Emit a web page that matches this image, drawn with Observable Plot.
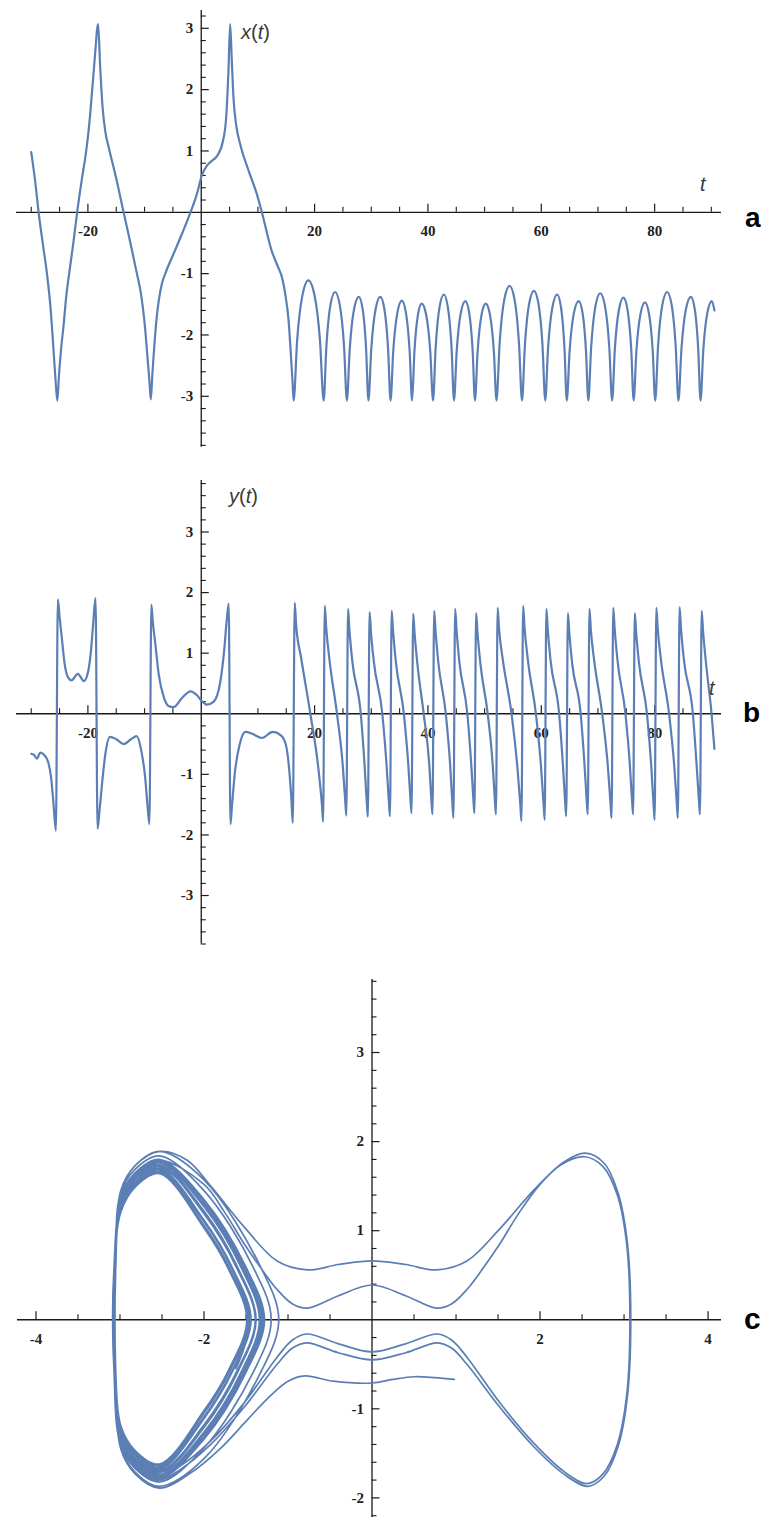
<!DOCTYPE html>
<html>
<head>
<meta charset="utf-8">
<script src="https://cdn.jsdelivr.net/npm/d3@7"></script>
<script src="https://cdn.jsdelivr.net/npm/@observablehq/plot@0.6"></script>
<style>
  html, body { margin: 0; padding: 0; background: #fff; overflow: hidden; }
  #wrap { position: relative; width: 767px; height: 1517px; overflow: hidden; background: #fff; }
  #wrap svg { position: absolute; left: 0; }
  .axlab { position: absolute; font-family: "Liberation Sans", Arial, sans-serif; font-size: 20px; line-height: 22px; color: #3a3a3a; white-space: nowrap; }
  .axlab i { font-style: italic; }
  .plab { position: absolute; font-family: "Liberation Sans", Arial, sans-serif; font-weight: bold; font-size: 28px; line-height: 28px; color: #000; }
</style>
</head>
<body>
<div id="wrap"></div>
<script>
// ---------------- DATA ----------------
// axis ticks and labels
const tMajor = [-20, 20, 40, 60, 80];
const tMajorLabels = ["-20", "20", "40", "60", "80"];
const tMinor = [-30, -25, -15, -10, -5, 5, 10, 15, 25, 30, 35, 45, 50, 55, 65, 70, 75, 85, 90];
const valMajor = [-3, -2, -1, 1, 2, 3];
const valMajorLabels = ["-3", "-2", "-1", "1", "2", "3"];
const phaseXMajor = [-4, -2, 2, 4];
const phaseXMajorLabels = ["-4", "-2", "2", "4"];
const phaseXMinor = [-3.5, -3, -2.5, -1.5, -1, -0.5, 0.5, 1, 1.5, 2.5, 3, 3.5];
const phaseYMajor = [-2, -1, 1, 2, 3];
const phaseYMajorLabels = ["-2", "-1", "1", "2", "3"];

// panel a : x(t), transient part
const xTransient = [
  [-30,0.98],[-29.3,0.5],[-28.7,0],[-27.9,-0.55],[-27.2,-1.02],[-26.6,-1.55],[-26.1,-2.2],[-25.7,-2.75],[-25.4,-3.07],
  [-25.1,-2.65],[-24.7,-2.2],[-24.3,-1.85],[-23.8,-1.35],[-23.4,-1.06],[-22.6,-0.52],[-21.9,0],[-21.1,0.52],[-20.3,1.0],[-19.8,1.4],[-19.3,1.93],[-18.8,2.5],[-18.2,3.07],
  [-17.85,2.4],[-17.4,1.7],[-16.9,1.3],[-16.3,1.05],[-15.0,0.55],[-13.7,0],[-12.5,-0.5],[-11.4,-0.98],[-10.6,-1.35],[-10.0,-1.8],[-9.5,-2.35],[-9.15,-2.75],[-8.9,-3.05],
  [-8.6,-2.6],[-8.3,-2.2],[-7.9,-1.75],[-7.5,-1.44],[-6.9,-1.15],[-6.35,-1.0],[-4.9,-0.68],[-3.4,-0.35],[-1.9,0],[-0.76,0.3],[0.1,0.6],[1.0,0.76],[1.9,0.84],[2.8,0.92],[3.8,1.15],[4.4,1.55],[4.8,2.3],[5.1,3.07],
  [5.4,2.45],[5.7,1.85],[6.2,1.4],[6.9,1.1],[8.35,0.68],[9.8,0.3],[10.7,0],[12.4,-0.62],[13.5,-0.88],[14.3,-1.08],[14.9,-1.38],[15.4,-1.75],[15.8,-2.3],[16.1,-2.75],[16.3,-3.07]
];
// panel a : x(t), oscillation part
const xOscillation = [
  [16.92,-2.09],[17.86,-1.35],[18.9,-1.11],[19.98,-1.35],[20.95,-2.09],[21.6,-3.07],
  [22.08,-2.19],[22.8,-1.51],[23.6,-1.30],[24.44,-1.51],[25.2,-2.19],[25.7,-3.07],
  [26.2,-2.23],[26.96,-1.58],[27.8,-1.38],[28.48,-1.58],[29.09,-2.23],[29.5,-3.07],
  [30.0,-2.23],[30.76,-1.58],[31.6,-1.38],[32.32,-1.58],[32.97,-2.23],[33.4,-3.07],
  [33.88,-2.26],[34.6,-1.64],[35.4,-1.44],[36.12,-1.64],[36.77,-2.26],[37.2,-3.07],
  [37.61,-2.28],[38.22,-1.68],[38.9,-1.49],[39.7,-1.68],[40.42,-2.28],[40.9,-3.07],
  [41.36,-2.21],[42.04,-1.55],[42.8,-1.34],[43.52,-1.55],[44.17,-2.21],[44.6,-3.07],
  [45.08,-2.26],[45.8,-1.64],[46.6,-1.45],[47.28,-1.64],[47.89,-2.26],[48.3,-3.07],
  [48.76,-2.28],[49.44,-1.68],[50.2,-1.49],[50.96,-1.68],[51.64,-2.28],[52.1,-3.07],
  [52.65,-2.14],[53.48,-1.42],[54.4,-1.20],[55.28,-1.42],[56.07,-2.14],[56.6,-3.07],
  [57.1,-2.18],[57.86,-1.49],[58.7,-1.28],[59.5,-1.49],[60.22,-2.18],[60.7,-3.07],
  [61.2,-2.21],[61.96,-1.55],[62.8,-1.34],[63.48,-1.55],[64.09,-2.21],[64.5,-3.07],
  [65.0,-2.26],[65.76,-1.64],[66.6,-1.45],[67.28,-1.64],[67.89,-2.26],[68.3,-3.07],
  [68.8,-2.20],[69.56,-1.53],[70.4,-1.32],[71.24,-1.53],[72.0,-2.20],[72.5,-3.07],
  [72.98,-2.23],[73.7,-1.59],[74.5,-1.39],[75.22,-1.59],[75.87,-2.23],[76.3,-3.07],
  [76.78,-2.27],[77.5,-1.66],[78.3,-1.47],[79.02,-1.66],[79.67,-2.27],[80.1,-3.07],
  [80.6,-2.19],[81.36,-1.51],[82.2,-1.30],[83.0,-1.51],[83.72,-2.19],[84.2,-3.07],
  [84.73,-2.23],[85.52,-1.58],[86.4,-1.38],[87.08,-1.58],[87.69,-2.23],[88.1,-3.07],
  [88.58,-2.26],[89.3,-1.64],[90.1,-1.45],[90.55,-1.6]
];

// panel b : y(t), transient part
const yTransient = [
  [-30,-0.66],[-29.5,-0.68],[-29.0,-0.74],[-28.4,-0.64],[-27.7,-0.68],[-27.0,-0.8],[-26.5,-1.05],[-26.1,-1.45],[-25.65,-1.93],
  [-25.3,1.89],[-25.0,1.6],[-24.6,1.25],[-24.1,0.82],[-23.5,0.6],[-22.9,0.55],[-21.8,0.66],[-20.7,0.54],[-20.0,0.68],[-19.5,1.0],[-19.1,1.45],[-18.65,1.91],
  [-18.3,-1.9],[-17.95,-1.6],[-17.5,-1.15],[-16.9,-0.65],[-16.1,-0.38],[-15.0,-0.42],[-13.7,-0.5],[-12.4,-0.42],[-11.4,-0.37],[-10.6,-0.6],[-9.9,-1.05],[-9.45,-1.55],[-9.15,-1.82],
  [-8.8,1.8],[-8.55,1.52],[-8.1,1.15],[-7.5,0.65],[-6.6,0.27],[-5.8,0.13],[-4.9,0.11],[-3.4,0.26],[-1.9,0.37],[-0.8,0.31],[0.1,0.21],[1.0,0.15],[2.2,0.2],[3.35,0.52],[4.05,1.05],[4.5,1.55],[4.85,1.82],
  [5.15,-1.82],[5.4,-1.55],[5.9,-1.0],[6.8,-0.5],[7.8,-0.3],[9.0,-0.33],[10.7,-0.4],[12.6,-0.3],[14.1,-0.36],[14.9,-0.5],[15.5,-0.9],[15.9,-1.4],[16.15,-1.8]
];
// panel b : y(t), oscillation part
const yOscillation = [
  [16.5,1.83],[16.75,1.46],[17.63,0.92],[19.25,0],[20.65,-0.89],[21.3,-1.51],[21.5,-1.78],
  [21.8,1.78],[22.05,1.42],[22.63,0.89],[23.95,0],[24.96,-0.84],[25.4,-1.43],[25.6,-1.68],
  [25.9,1.73],[26.15,1.38],[26.65,0.87],[28.15,0],[28.82,-0.85],[29.2,-1.45],[29.4,-1.70],
  [29.7,1.68],[29.95,1.34],[30.48,0.84],[31.95,0],[32.7,-0.85],[33.1,-1.44],[33.3,-1.69],
  [33.6,1.70],[33.85,1.36],[34.35,0.85],[35.75,0],[36.52,-0.82],[36.9,-1.39],[37.1,-1.64],
  [37.4,1.65],[37.65,1.32],[38.13,0.83],[39.25,0],[40.23,-0.83],[40.6,-1.41],[40.8,-1.66],
  [41.1,1.70],[41.35,1.36],[41.83,0.85],[43.15,0],[43.93,-0.86],[44.3,-1.46],[44.5,-1.72],
  [44.8,1.73],[45.05,1.38],[45.53,0.87],[46.95,0],[47.63,-0.82],[48.0,-1.39],[48.2,-1.64],
  [48.5,1.66],[48.75,1.33],[49.25,0.83],[50.55,0],[51.42,-0.83],[51.8,-1.41],[52.0,-1.66],
  [52.3,1.75],[52.55,1.40],[53.23,0.88],[54.75,0],[55.79,-0.89],[56.3,-1.50],[56.5,-1.77],
  [56.8,1.78],[57.05,1.42],[57.63,0.89],[59.05,0],[59.96,-0.88],[60.4,-1.49],[60.6,-1.75],
  [60.9,1.73],[61.15,1.38],[61.65,0.87],[63.15,0],[63.82,-0.85],[64.2,-1.44],[64.4,-1.69],
  [64.7,1.66],[64.95,1.33],[65.45,0.83],[66.95,0],[67.62,-0.83],[68.0,-1.41],[68.2,-1.66],
  [68.5,1.73],[68.75,1.38],[69.35,0.87],[70.75,0],[71.74,-0.86],[72.2,-1.46],[72.4,-1.72],
  [72.7,1.75],[72.95,1.40],[73.45,0.88],[74.85,0],[75.62,-0.83],[76.0,-1.41],[76.2,-1.66],
  [76.5,1.66],[76.75,1.33],[77.25,0.83],[78.65,0],[79.42,-0.88],[79.8,-1.49],[80.0,-1.75],
  [80.3,1.75],[80.55,1.40],[81.13,0.88],[82.55,0],[83.46,-0.86],[83.9,-1.46],[84.1,-1.72],
  [84.4,1.76],[84.65,1.41],[85.18,0.88],[86.75,0],[87.4,-0.83],[87.8,-1.41],[88.0,-1.66],
  [88.3,1.70],[88.55,1.36],[89.05,0.85],[90.05,0],[90.55,-0.58]
];

// panel c : phase portrait (x, y), in time order
const phaseSeg1 = [
  [0.98,-0.67],[0.75,-0.65],[0.5,-0.64],[0.25,-0.67],[0,-0.71],[-0.46,-0.69],[-0.8,-0.63],[-1.0,-0.69],[-1.25,-0.89],
  [-1.49,-1.13],[-1.81,-1.45],[-2.13,-1.7],[-2.53,-1.89],[-2.82,-1.73],[-2.99,-1.45],[-3.05,-0.6],[-3.05,0.6]
];
const phaseSeg2 = [
  [-2.99,1.45],[-2.82,1.73],[-2.53,1.89],[-2.2,1.79],[-1.92,1.5],[-1.52,1.04],[-1.13,0.66],[-0.77,0.56],[-0.4,0.62],[0,0.66],[0.4,0.62],[0.77,0.56],
  [1.13,0.66],[1.52,1.02],[1.92,1.45],[2.28,1.77],[2.54,1.87],[2.76,1.76],[2.93,1.42],[3.04,0.86],[3.08,0],[3.04,-0.86],[2.93,-1.42],[2.76,-1.76],[2.57,-1.87]
];
const phaseSeg3 = [
  [2.28,-1.73],[1.92,-1.42],[1.52,-0.98],[1.13,-0.5],[0.95,-0.32],[0.78,-0.26],[0.4,-0.37],[0,-0.45],[-0.4,-0.37],[-0.78,-0.26],
  [-0.95,-0.32],[-1.13,-0.5],[-1.52,-0.98],[-1.92,-1.4],[-2.28,-1.68],[-2.55,-1.8],[-2.83,-1.64],[-3.0,-1.36],[-3.06,-0.6],[-3.06,0.6]
];
const phaseSeg4 = [
  [-3.0,1.35],[-2.83,1.63],[-2.53,1.79],[-2.0,1.52],[-1.75,1.2],[-1.52,0.85],[-1.3,0.55],[-1.13,0.34],[-0.95,0.18],[-0.77,0.13],[-0.4,0.27],[0,0.39],
  [0.4,0.27],[0.77,0.13],[0.95,0.18],[1.13,0.34],[1.3,0.55],[1.52,0.85],[1.75,1.2],[2.0,1.52],[2.25,1.74],[2.53,1.83],
  [2.75,1.72],[2.92,1.4],[3.03,0.86],[3.07,0],[3.03,-0.86],[2.92,-1.4],[2.75,-1.73],[2.56,-1.84]
];
const phaseSeg5 = [
  [2.28,-1.7],[1.92,-1.38],[1.52,-0.93],[1.13,-0.42],[0.95,-0.23],[0.78,-0.16],[0.4,-0.27],[0,-0.36],[-0.4,-0.27],[-0.78,-0.16],
  [-0.95,-0.23],[-1.13,-0.42],[-1.52,-0.93],[-1.92,-1.36],[-2.28,-1.64],[-2.55,-1.76],[-2.82,-1.6],[-2.99,-1.32],[-3.05,-0.6],[-3.05,0.6]
];
const phaseLoops = [
  [-2.99,1.45],[-2.82,1.73],[-2.53,1.89],[-2.0,1.57],[-1.33,0.6],[-1.11,0],[-1.33,-0.6],[-2.0,-1.56],[-2.53,-1.87],[-2.82,-1.71],[-2.99,-1.43],[-3.05,-0.6],[-3.05,0.6],
  [-3.0,1.36],[-2.83,1.64],[-2.53,1.8],[-2.0,1.33],[-1.52,0.59],[-1.3,0],[-1.52,-0.59],[-2.0,-1.32],[-2.53,-1.78],[-2.83,-1.62],[-3.0,-1.34],[-3.07,-0.6],[-3.07,0.6],
  [-2.99,1.3],[-2.82,1.58],[-2.53,1.74],[-2.0,1.22],[-1.6,0.59],[-1.38,0],[-1.6,-0.59],[-2.0,-1.21],[-2.53,-1.72],[-2.82,-1.56],[-2.99,-1.28],[-3.05,-0.6],[-3.05,0.6],
  [-3.0,1.28],[-2.83,1.56],[-2.53,1.72],[-2.0,1.2],[-1.6,0.58],[-1.38,0],[-1.6,-0.58],[-2.0,-1.19],[-2.53,-1.7],[-2.83,-1.54],[-3.0,-1.26],[-3.07,-0.6],[-3.07,0.6],
  [-2.99,1.26],[-2.82,1.54],[-2.53,1.7],[-2.0,1.12],[-1.66,0.58],[-1.44,0],[-1.66,-0.58],[-2.0,-1.11],[-2.53,-1.68],[-2.82,-1.52],[-2.99,-1.24],[-3.05,-0.6],[-3.05,0.6],
  [-3.0,1.2],[-2.83,1.48],[-2.53,1.64],[-2.0,1.03],[-1.71,0.57],[-1.49,0],[-1.71,-0.57],[-2.0,-1.02],[-2.53,-1.62],[-2.83,-1.46],[-3.0,-1.18],[-3.07,-0.6],[-3.07,0.6],
  [-2.99,1.32],[-2.82,1.6],[-2.53,1.76],[-2.0,1.27],[-1.56,0.59],[-1.34,0],[-1.56,-0.59],[-2.0,-1.26],[-2.53,-1.74],[-2.82,-1.58],[-2.99,-1.3],[-3.05,-0.6],[-3.05,0.6],
  [-3.0,1.25],[-2.83,1.53],[-2.53,1.69],[-2.0,1.11],[-1.67,0.58],[-1.45,0],[-1.67,-0.58],[-2.0,-1.1],[-2.53,-1.67],[-2.83,-1.51],[-3.0,-1.23],[-3.07,-0.6],[-3.07,0.6],
  [-2.99,1.21],[-2.82,1.49],[-2.53,1.65],[-2.0,1.04],[-1.71,0.57],[-1.49,0],[-1.71,-0.57],[-2.0,-1.03],[-2.53,-1.63],[-2.82,-1.47],[-2.99,-1.19],[-3.05,-0.6],[-3.05,0.6],
  [-3.0,1.4],[-2.83,1.68],[-2.53,1.84],[-2.0,1.45],[-1.42,0.6],[-1.2,0],[-1.42,-0.6],[-2.0,-1.44],[-2.53,-1.82],[-2.83,-1.66],[-3.0,-1.38],[-3.07,-0.6],[-3.07,0.6],
  [-2.99,1.36],[-2.82,1.64],[-2.53,1.8],[-2.0,1.35],[-1.5,0.59],[-1.28,0],[-1.5,-0.59],[-2.0,-1.34],[-2.53,-1.78],[-2.82,-1.62],[-2.99,-1.34],[-3.05,-0.6],[-3.05,0.6],
  [-3.0,1.32],[-2.83,1.6],[-2.53,1.76],[-2.0,1.27],[-1.56,0.59],[-1.34,0],[-1.56,-0.59],[-2.0,-1.26],[-2.53,-1.74],[-2.83,-1.58],[-3.0,-1.3],[-3.07,-0.6],[-3.07,0.6],
  [-2.99,1.24],[-2.82,1.52],[-2.53,1.68],[-2.0,1.1],[-1.67,0.58],[-1.45,0],[-1.67,-0.58],[-2.0,-1.09],[-2.53,-1.66],[-2.82,-1.5],[-2.99,-1.22],[-3.05,-0.6],[-3.05,0.6],
  [-3.0,1.33],[-2.83,1.61],[-2.53,1.77],[-2.0,1.29],[-1.54,0.59],[-1.32,0],[-1.54,-0.59],[-2.0,-1.28],[-2.53,-1.75],[-2.83,-1.59],[-3.0,-1.31],[-3.07,-0.6],[-3.07,0.6],
  [-2.99,1.29],[-2.82,1.57],[-2.53,1.73],[-2.0,1.19],[-1.61,0.58],[-1.39,0],[-1.61,-0.58],[-2.0,-1.18],[-2.53,-1.71],[-2.82,-1.55],[-2.99,-1.27],[-3.05,-0.6],[-3.05,0.6],
  [-3.0,1.22],[-2.83,1.5],[-2.53,1.66],[-2.0,1.06],[-1.69,0.57],[-1.47,0],[-1.69,-0.57],[-2.0,-1.05],[-2.53,-1.64],[-2.83,-1.48],[-3.0,-1.2],[-3.07,-0.6],[-3.07,0.6],
  [-2.99,1.35],[-2.82,1.63],[-2.53,1.79],[-2.0,1.32],[-1.52,0.59],[-1.3,0],[-1.52,-0.59],[-2.0,-1.31],[-2.53,-1.77],[-2.82,-1.61],[-2.99,-1.33],[-3.05,-0.6],[-3.05,0.6],
  [-3.0,1.3],[-2.83,1.58],[-2.53,1.74],[-2.0,1.22],[-1.6,0.59],[-1.38,0],[-1.6,-0.59],[-2.0,-1.21],[-2.53,-1.72],[-2.83,-1.56],[-3.0,-1.28],[-3.07,-0.6],[-3.07,0.6],
  [-2.99,1.25],[-2.82,1.53],[-2.53,1.69],[-2.0,1.11],[-1.67,0.58],[-1.45,0],[-1.62,-0.55]
];

// ---------------- DRAWING ----------------
const LINE = "#5b7fb4";
const AXIS = "#1a1a1a";
const tickFont = {fontFamily: '"Liberation Serif", "Times New Roman", serif', fontSize: 15, fontWeight: "bold", fill: "#222"};

function minorSteps(lo, hi) {
  const out = [];
  for (let k = Math.round(lo * 5); k <= Math.round(hi * 5); k++) {
    if (k % 5 !== 0) out.push(k / 5);
  }
  return out;
}

function axisMarks(o) {
  return [
    Plot.ruleY([0], {stroke: AXIS, strokeWidth: 1.3}),
    Plot.ruleX([0], {stroke: AXIS, strokeWidth: 1.3}),
    Plot.ruleX(o.xMinor, {x: d => d, y1: 0, y2: 0, insetTop: -5, insetBottom: 0, stroke: AXIS, strokeWidth: 1.1}),
    Plot.ruleX(o.xMajor, {x: d => d, y1: 0, y2: 0, insetTop: -8, insetBottom: 0, stroke: AXIS, strokeWidth: 1.2}),
    Plot.ruleY(o.yMinor, {y: d => d, x1: 0, x2: 0, insetLeft: 0, insetRight: -5, stroke: AXIS, strokeWidth: 1.1}),
    Plot.ruleY(o.yMajor, {y: d => d, x1: 0, x2: 0, insetLeft: 0, insetRight: -8, stroke: AXIS, strokeWidth: 1.2}),
    Plot.text(o.xMajor, {x: d => d, y: 0, text: (d, i) => o.xLabels[i], dy: 19, ...tickFont}),
    Plot.text(o.yMajor, {x: 0, y: d => d, text: (d, i) => o.yLabels[i], textAnchor: "end", dx: -8, ...tickFont})
  ];
}

const wrap = document.getElementById("wrap");
function place(svg, top) {
  svg.style.top = top + "px";
  svg.style.left = "0px";
  svg.style.position = "absolute";
  svg.style.background = "transparent";
  wrap.appendChild(svg);
}

// panel a
const plotA = Plot.plot({
  width: 767, height: 460,
  marginTop: 10, marginBottom: 13.3, marginLeft: 16, marginRight: 46,
  x: {domain: [-32.6, 91.8], axis: null},
  y: {domain: [-3.83, 3.29], axis: null},
  marks: [
    ...axisMarks({xMinor: tMinor, xMajor: tMajor, xLabels: tMajorLabels,
      yMinor: minorSteps(-3.8, 3.2), yMajor: valMajor, yLabels: valMajorLabels}),
    Plot.line(xTransient.concat(xOscillation), {x: d => d[0], y: d => d[1], stroke: LINE, strokeWidth: 2.2, curve: "monotone-x"})
  ]
});
place(plotA, 0);

// panel b
const plotB = Plot.plot({
  width: 767, height: 500,
  marginTop: 20, marginBottom: 16.5, marginLeft: 16, marginRight: 46,
  x: {domain: [-32.6, 91.8], axis: null},
  y: {domain: [-3.8, 3.85], axis: null},
  marks: [
    ...axisMarks({xMinor: tMinor, xMajor: tMajor, xLabels: tMajorLabels,
      yMinor: minorSteps(-3.8, 3.8), yMajor: valMajor, yLabels: valMajorLabels}),
    Plot.line(yTransient.concat(yOscillation), {x: d => d[0], y: d => d[1], stroke: LINE, strokeWidth: 2.2, curve: "monotone-x"})
  ]
});
place(plotB, 460);

// panel c
const phaseAll = [].concat(phaseSeg1, phaseSeg2, phaseSeg3, phaseSeg4, phaseSeg5, phaseLoops);
const plotC = Plot.plot({
  width: 767, height: 557,
  marginTop: 19, marginBottom: 0, marginLeft: 17, marginRight: 46,
  x: {domain: [-4.22, 4.16], axis: null},
  y: {domain: [-2.22, 3.82], axis: null},
  marks: [
    ...axisMarks({xMinor: phaseXMinor, xMajor: phaseXMajor, xLabels: phaseXMajorLabels,
      yMinor: minorSteps(-2.2, 3.8), yMajor: phaseYMajor, yLabels: phaseYMajorLabels}),
    Plot.line(phaseAll, {x: d => d[0], y: d => d[1], stroke: LINE, strokeWidth: 1.7, curve: "catmull-rom"})
  ]
});
place(plotC, 960);

// axis names and panel letters
function addHTML(cls, html, left, top, size) {
  const d = document.createElement("div");
  d.className = cls;
  d.innerHTML = html;
  d.style.left = left + "px";
  d.style.top = top + "px";
  if (size) { d.style.fontSize = size + "px"; d.style.lineHeight = size + "px"; }
  wrap.appendChild(d);
}
addHTML("axlab", "<i>x</i>(<i>t</i>)", 241, 21);
addHTML("axlab", "<i>t</i>", 700, 173);
addHTML("axlab", "<i>y</i>(<i>t</i>)", 229, 485);
addHTML("axlab", "<i>t</i>", 709, 677);
addHTML("plab", "a", 745, 204);
addHTML("plab", "b", 743, 699);
addHTML("plab", "c", 744, 1304, 30);
</script>
</body>
</html>
